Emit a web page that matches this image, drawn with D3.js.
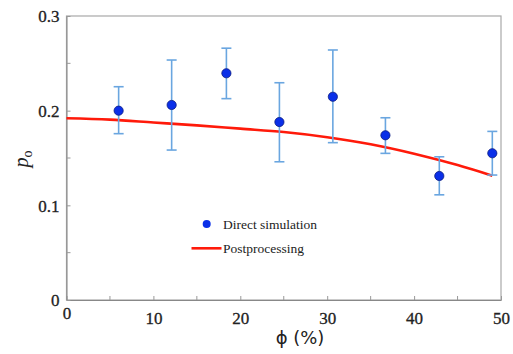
<!DOCTYPE html>
<html><head><meta charset="utf-8">
<script src="https://cdn.jsdelivr.net/npm/d3@7/dist/d3.min.js"></script>
<style>
body{margin:0;background:#fff;}
svg{display:block;}
</style></head>
<body>
<svg id="c" width="513" height="354"></svg>
<script>
const phi = [6, 12.1, 18.4, 24.5, 30.65, 36.7, 42.9, 49.0];
const pDirect = [0.200, 0.206, 0.2395, 0.188, 0.2147, 0.174, 0.131, 0.155];
const errTop = [0.2253, 0.2535, 0.266, 0.2295, 0.2641, 0.1925, 0.1513, 0.1781];
const errBottom = [0.1757, 0.1584, 0.2127, 0.146, 0.1662, 0.1549, 0.1111, 0.132];
const curvePhi = [0, 5, 10, 15, 20, 25, 30, 35, 40, 45, 49];
const curveP = [0.192, 0.1905, 0.1875, 0.1845, 0.181, 0.1775, 0.172, 0.1645, 0.1545, 0.1425, 0.1313];
const xTicks = [0, 10, 20, 30, 40, 50];
const yTicks = [0, 0.1, 0.2, 0.3];
const xMinor = [5, 15, 25, 35, 45];
const yMinor = [0.05, 0.15, 0.25];

const SERIF = "'Liberation Serif', 'Times New Roman', serif";
const svg = d3.select("#c");
const L = 66.5, R = 501, T = 16, B = 300;
const x = d3.scaleLinear().domain([0, 50]).range([L, R]);
const y = d3.scaleLinear().domain([0, 0.3]).range([B, T]);

// frame
svg.append("rect").attr("x", L).attr("y", T).attr("width", R - L).attr("height", B - T)
  .attr("fill", "none").attr("stroke", "#a8a8a8").attr("stroke-width", 1.2);

// axes
const xAx = svg.append("g").attr("transform", `translate(0,${B})`)
  .call(d3.axisBottom(x).tickValues(xTicks).tickFormat(d3.format("d")).tickSizeInner(-4).tickSizeOuter(0).tickPadding(10));
const yAx = svg.append("g").attr("transform", `translate(${L},0)`)
  .call(d3.axisLeft(y).tickValues(yTicks).tickFormat(d => d === 0 ? "0" : d3.format(".1f")(d)).tickSizeInner(-4).tickSizeOuter(0).tickPadding(7));
[xAx, yAx].forEach(g => {
  g.select(".domain").attr("stroke", "#888");
  g.selectAll(".tick line").attr("stroke", "#999");
  g.selectAll(".tick text").style("font-family", SERIF).style("font-size", "17px")
    .attr("fill", "#222").attr("stroke", "#222").attr("stroke-width", 0.3);
});
xAx.selectAll(".tick text").attr("dy", "0.8em");
yAx.selectAll(".tick text").attr("dy", "0.35em");
xAx.selectAll(".tick").filter(d => d === 0).select("text").attr("dy", "0.55em");
// minor ticks
svg.append("g").selectAll("line").data(xMinor).join("line")
  .attr("x1", d => x(d)).attr("x2", d => x(d)).attr("y1", B).attr("y2", B - 4).attr("stroke", "#999");
svg.append("g").selectAll("line").data(yMinor).join("line")
  .attr("x1", L).attr("x2", L + 4).attr("y1", d => y(d)).attr("y2", d => y(d)).attr("stroke", "#999");

// curve
svg.append("path").datum(curvePhi.map((d, i) => [d, curveP[i]]))
  .attr("d", d3.line().x(d => x(d[0])).y(d => y(d[1])).curve(d3.curveMonotoneX))
  .attr("fill", "none").attr("stroke", "#ff1a0a").attr("stroke-width", 2.6);

// error bars
const eb = svg.append("g").attr("stroke", "#6aa6e0").attr("stroke-width", 1.6);
phi.forEach((p, i) => {
  eb.append("line").attr("x1", x(p)).attr("x2", x(p)).attr("y1", y(errTop[i])).attr("y2", y(errBottom[i]));
  eb.append("line").attr("x1", x(p) - 5).attr("x2", x(p) + 5).attr("y1", y(errTop[i])).attr("y2", y(errTop[i]));
  eb.append("line").attr("x1", x(p) - 5).attr("x2", x(p) + 5).attr("y1", y(errBottom[i])).attr("y2", y(errBottom[i]));
});
// points
svg.append("g").selectAll("circle").data(phi).join("circle")
  .attr("cx", d => x(d)).attr("cy", (d, i) => y(pDirect[i])).attr("r", 4.6)
  .attr("fill", "#0a2fe8").attr("stroke", "#0a1a80").attr("stroke-width", 0.8);

// legend
svg.append("circle").attr("cx", 206.7).attr("cy", 224).attr("r", 4).attr("fill", "#0a2fe8");
svg.append("text").attr("x", 223).attr("y", 229).text("Direct simulation")
  .style("font-family", SERIF).style("font-size", "13.5px").attr("fill", "#222");
svg.append("line").attr("x1", 191.5).attr("x2", 221.5).attr("y1", 248.3).attr("y2", 248.3)
  .attr("stroke", "#ff1a0a").attr("stroke-width", 2.6);
svg.append("text").attr("x", 223).attr("y", 253).text("Postprocessing")
  .style("font-family", SERIF).style("font-size", "13.5px").attr("fill", "#222");

// axis titles
svg.append("text").attr("x", 300).attr("y", 344).attr("text-anchor", "middle")
  .style("font-family", "'DejaVu Sans', sans-serif").style("font-size", "18px").attr("fill", "#222").text("ϕ (%)");
const yl = svg.append("text").attr("transform", "translate(28,159) rotate(-90)").attr("text-anchor", "middle")
  .style("font-family", SERIF).style("font-size", "20px").attr("fill", "#222");
yl.append("tspan").attr("font-style", "italic").text("p");
yl.append("tspan").style("font-size", "14px").attr("dy", 4).text("o");
</script>
</body></html>
